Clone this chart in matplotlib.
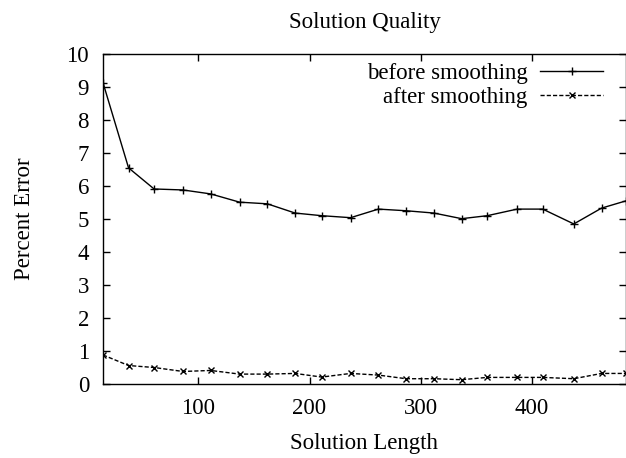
import numpy as np
import matplotlib
matplotlib.use("Agg")
import matplotlib.pyplot as plt

# data
solution_length = [14, 37, 60, 86, 111, 137, 162, 187, 211, 237,
                   262, 287, 312, 337, 360, 387, 410, 438, 463, 485]
before_smoothing = [9.13, 6.55, 5.91, 5.88, 5.76, 5.51, 5.46, 5.18, 5.10, 5.04,
                    5.30, 5.25, 5.18, 5.01, 5.10, 5.30, 5.30, 4.85, 5.33, 5.55]
after_smoothing = [0.88, 0.56, 0.50, 0.38, 0.41, 0.30, 0.30, 0.32, 0.21, 0.32,
                   0.27, 0.16, 0.16, 0.13, 0.20, 0.20, 0.20, 0.16, 0.32, 0.32]
x_ticks = [100, 200, 300, 400]
y_ticks = list(range(0, 11))

FS = 16.5
plt.rcParams['font.family'] = ['Liberation Serif', 'DejaVu Serif']
plt.rcParams['font.size'] = FS

fig = plt.figure(figsize=(6.26, 4.58), dpi=100)
ax = fig.add_axes([103 / 626, 74 / 458, 523 / 626, 330 / 458])

ax.plot(solution_length, before_smoothing, color='black', lw=1.0,
        marker='+', markersize=6, markeredgewidth=1.0, label='before smoothing')
ax.plot(solution_length, after_smoothing, color='black', lw=1.0, dashes=(3, 1.5),
        marker='x', markersize=4.5, markeredgewidth=1.0, label='after smoothing')

ax.set_xlim(solution_length[0], solution_length[-1])
ax.set_ylim(0, 10)
ax.set_xticks(x_ticks)
ax.set_yticks(y_ticks)
ax.tick_params(direction='in', length=5, width=1, top=True, right=True,
               labelsize=FS, pad=10)
for sp in ax.spines.values():
    sp.set_linewidth(1.0)

ax.set_title('Solution Quality', fontsize=FS, pad=18.5)
ax.set_xlabel('Solution Length', fontsize=FS, labelpad=10)
ax.set_ylabel('Percent Error', fontsize=FS, labelpad=23)

# legend: text on the left, sample on the right, like gnuplot's key
ax.legend(loc='upper right', frameon=False, markerfirst=False, numpoints=1,
          handlelength=2.75, handletextpad=0.57, labelspacing=0.12,
          borderpad=0.3, borderaxespad=0.0,
          bbox_to_anchor=(0.970, 0.994), fontsize=FS)

fig.savefig('out.png', dpi=100)
